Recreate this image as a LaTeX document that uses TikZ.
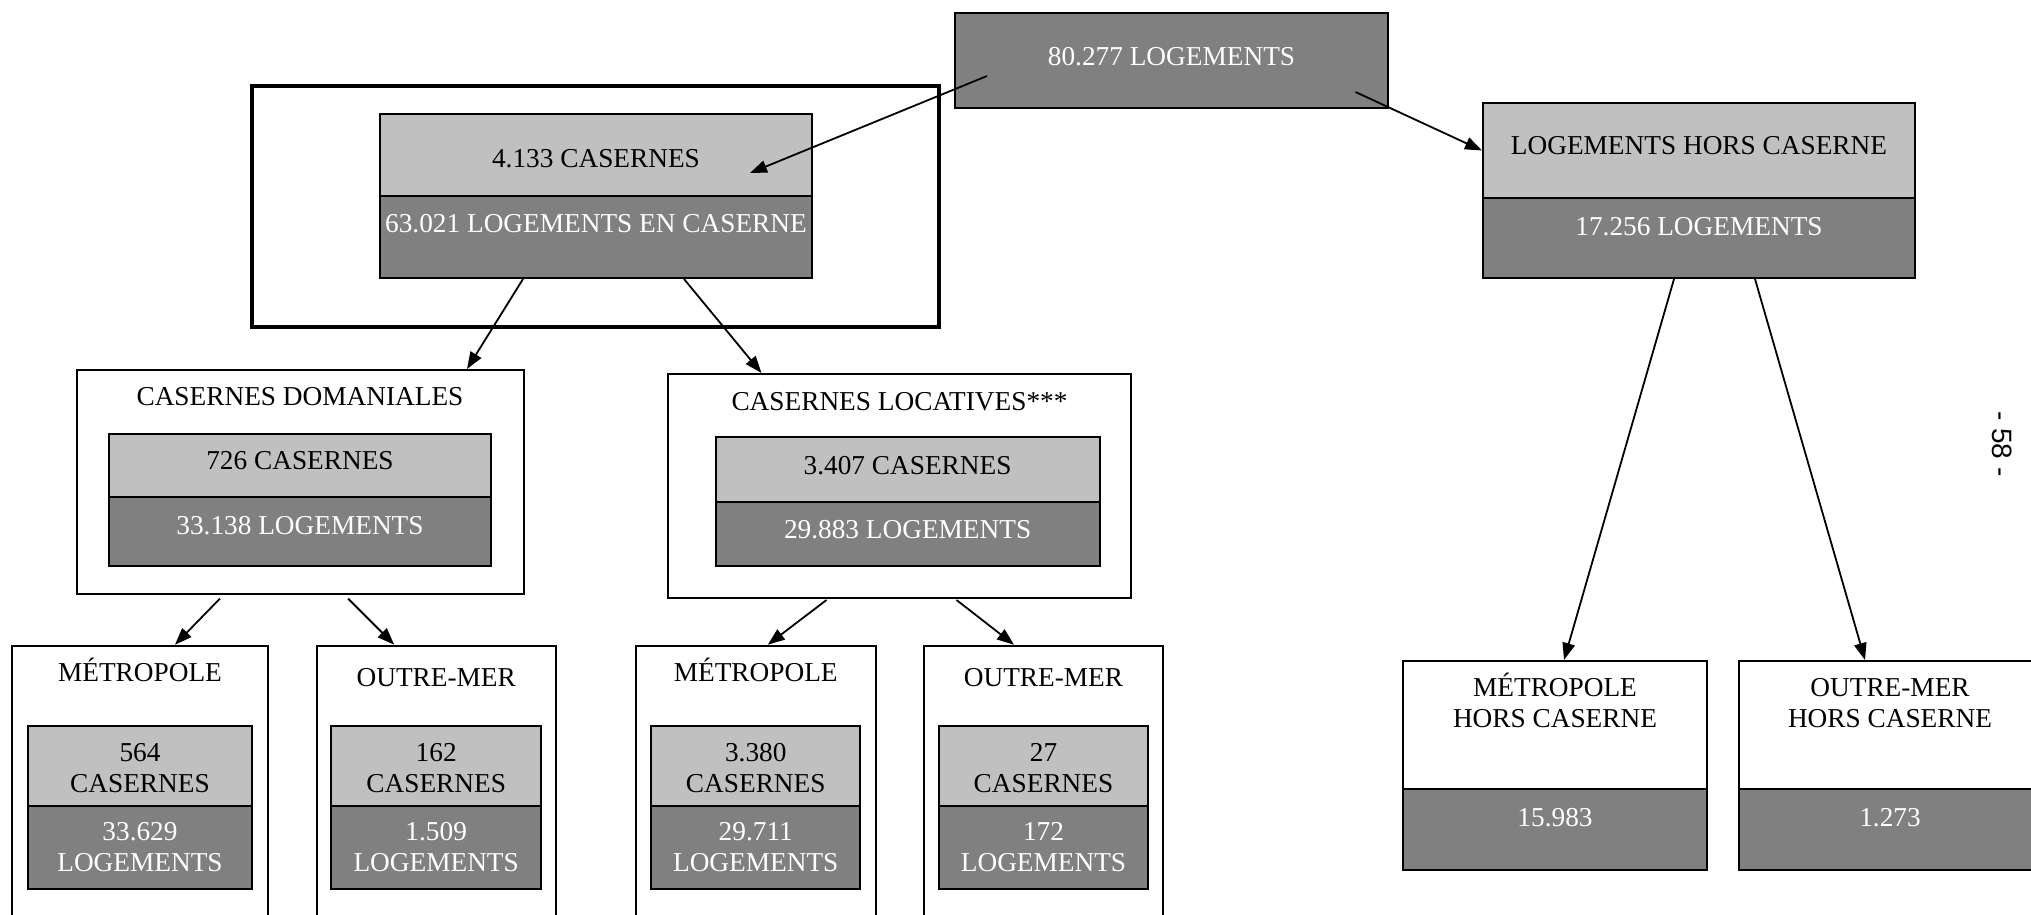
\documentclass[tikz,border=0pt]{standalone}
\usepackage{fontspec}
\setmainfont{Liberation Serif}
\newfontfamily\pagefont{Liberation Sans}
\usetikzlibrary{arrows.meta}
\definecolor{gris clair}{HTML}{C0C0C0}
\definecolor{gris fonce}{HTML}{808080}

\begin{document}
\begin{tikzpicture}[x=1pt, y=-1pt,
  font=\fontsize{27.3}{31}\selectfont,
  box/.style={rectangle, draw, line width=2pt, inner sep=0pt},
  clair/.style={box, fill=gris clair},
  fonce/.style={box, fill=gris fonce},
  blanc/.style={box, fill=white},
  txt/.style={inner sep=0pt, text height=18pt, text depth=0pt},
  txt2/.style={inner sep=0pt, align=center},
  arr/.style={-{Triangle[length=17pt,width=12.5pt]}, line width=1.8pt}]
\useasboundingbox (0,0) rectangle (2031,914);
\clip (0,0) rectangle (2031,914);

% total
\node[fonce, minimum width=433pt, minimum height=95pt] (total) at (1171.5,60.5) {};
\node[txt, text=white] (total txt) at (1171.5,56) {80.277 LOGEMENTS};

% en caserne
\node[draw, line width=4pt, inner sep=0pt, minimum width=687pt, minimum height=241pt] (cadre) at (595.5,206.5) {};
\node[clair, minimum width=432pt, minimum height=82pt] (casernes) at (596,155) {};
\node[txt] (casernes txt) at (596,158) {4.133 CASERNES};
\node[fonce, minimum width=432pt, minimum height=82pt] (en caserne) at (596,237) {};
\node[txt, text=white] (en caserne txt) at (596,223) {63.021 LOGEMENTS EN CASERNE};

% hors caserne
\node[clair, minimum width=432pt, minimum height=95pt] (hors) at (1699,150.5) {};
\node[txt] (hors txt) at (1699,145.7) {LOGEMENTS HORS CASERNE};
\node[fonce, minimum width=432pt, minimum height=80pt] (hors log) at (1699,238) {};
\node[txt, text=white] (hors log txt) at (1699,226) {17.256 LOGEMENTS};

% domaniales / locatives
\node[blanc, minimum width=447pt, minimum height=223.5pt] (dom) at (300,481.75) {};
\node[txt] (dom txt) at (300,396.8) {CASERNES DOMANIALES};
\node[clair, minimum width=382.6pt, minimum height=63.5pt] (dom cas) at (300,465.25) {};
\node[txt] (dom cas txt) at (300,460.8) {726 CASERNES};
\node[fonce, minimum width=382.6pt, minimum height=69pt] (dom log) at (300,531.5) {};
\node[txt, text=white] (dom log txt) at (300,525.2) {33.138 LOGEMENTS};

\node[blanc, minimum width=463pt, minimum height=224pt] (loc) at (899.5,486) {};
\node[txt] (loc txt) at (899.5,401.4) {CASERNES LOCATIVES***};
\node[clair, minimum width=384.2pt, minimum height=64.4pt] (loc cas) at (907.6,469.6) {};
\node[txt] (loc cas txt) at (907.6,465.8) {3.407 CASERNES};
\node[fonce, minimum width=384.2pt, minimum height=64.2pt] (loc log) at (907.6,533.9) {};
\node[txt, text=white] (loc log txt) at (907.6,529.9) {29.883 LOGEMENTS};

% metropole / outre-mer
\foreach \nom/\x/\w/\iw/\titre/\ty/\cas/\log in {
    met-dom/140/255.7/224.2/MÉTROPOLE/672/564/33.629,
    om-dom/436.2/238.8/209.8/OUTRE-MER/677.3/162/1.509,
    met-loc/755.75/239.5/209/MÉTROPOLE/672/3.380/29.711,
    om-loc/1043.5/239.5/209.7/OUTRE-MER/677.3/27/172} {
  \node[blanc, minimum width=\w pt, minimum height=294.3pt] (\nom) at (\x,792.85) {};
  \node[txt] (\nom-txt) at (\x,\ty) {\titre};
  \node[clair, minimum width=\iw pt, minimum height=80pt] (\nom-cas) at (\x,766) {};
  \node[txt2] (\nom-cas-txt) at (\x,768) {\cas\\CASERNES};
  \node[fonce, minimum width=\iw pt, minimum height=83pt] (\nom-log) at (\x,847.5) {};
  \node[txt2, text=white] (\nom-log-txt) at (\x,847) {\log\\LOGEMENTS};
}

\node[blanc, minimum width=304pt, minimum height=128pt] (met-hc) at (1555,725) {};
\node[txt2] (met-hc txt) at (1555,700.5) {MÉTROPOLE\\HORS CASERNE};
\node[fonce, minimum width=304pt, minimum height=81pt] (met-hc log) at (1555,829.5) {};
\node[txt, text=white] (met-hc log txt) at (1555,817) {15.983};

\node[blanc, minimum width=302pt, minimum height=128pt] (om-hc) at (1890,725) {};
\node[txt2] (om-hc txt) at (1890,703.5) {OUTRE-MER\\HORS CASERNE};
\node[fonce, minimum width=302pt, minimum height=81pt] (om-hc log) at (1890,829.5) {};
\node[txt, text=white] (om-hc log txt) at (1890,817) {1.273};

\node[font=\pagefont\fontsize{28}{30}\selectfont, rotate=-90, inner sep=0pt] (page) at (2002,444) {- 58 -};

% fleches
\draw[arr] ([xshift=33pt,yshift=-15.5pt]total.west) -- ([xshift=-63pt,yshift=-18pt]casernes.east);
\draw[arr] ([xshift=-33.5pt,yshift=-31.5pt]total.east) -- (hors.west);
\draw[arr] ([xshift=-73pt]en caserne.south) -- ([xshift=167pt]dom.north);
\draw[arr] ([xshift=88pt]en caserne.south) -- ([xshift=-138pt]loc.north);
\draw[arr] ([xshift=-80pt,yshift=-4pt]dom.south) -- ([xshift=35pt]met-dom.north);
\draw[arr] ([xshift=48pt,yshift=-4pt]dom.south) -- ([xshift=-42pt]om-dom.north);
\draw[arr] ([xshift=-73pt,yshift=-1pt]loc.south) -- ([xshift=12pt]met-loc.north);
\draw[arr] ([xshift=57pt,yshift=-1pt]loc.south) -- ([xshift=-29.5pt]om-loc.north);
\draw[arr] ([xshift=-25pt]hors log.south) -- ([xshift=9pt]met-hc.north);
\draw[arr] ([xshift=56pt]hors log.south) -- ([xshift=-25pt]om-hc.north);
\end{tikzpicture}
\end{document}
